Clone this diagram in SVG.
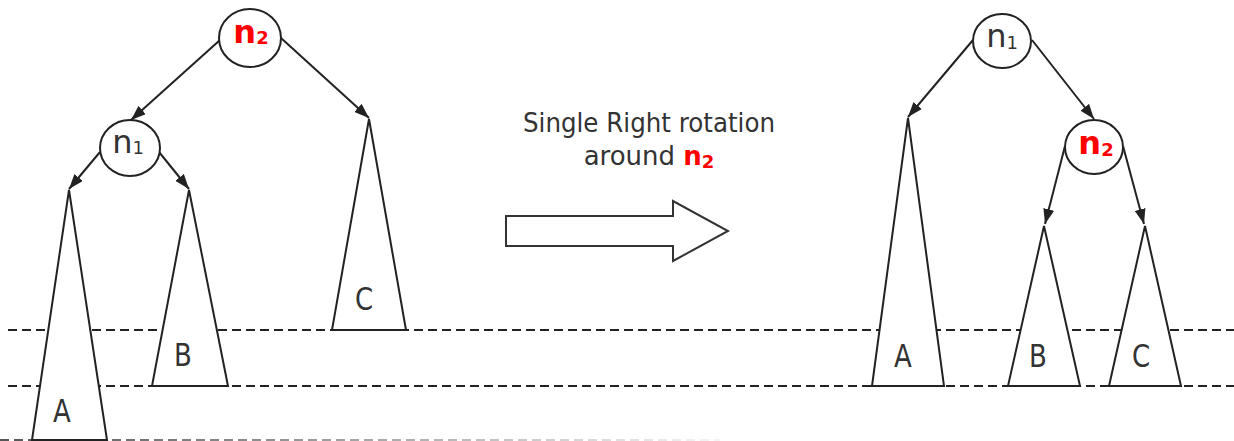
<svg xmlns="http://www.w3.org/2000/svg" width="1234" height="441" viewBox="0 0 1234 441">
<defs>
<marker id="ah" markerUnits="userSpaceOnUse" markerWidth="15" markerHeight="11" refX="15" refY="5.5" orient="auto">
<path d="M0,0 L15,5.5 L0,11 z" fill="#222"/>
</marker>
<linearGradient id="fade" gradientUnits="userSpaceOnUse" x1="0" y1="0" x2="720" y2="0">
<stop offset="0" stop-color="#555"/>
<stop offset="1" stop-color="#f5f5f5"/>
</linearGradient>
<style>
.node{fill:#fff;stroke:#222;stroke-width:2}
.tri{fill:#fff;stroke:#222;stroke-width:2;stroke-linejoin:miter}
.edge{stroke:#222;stroke-width:2;fill:none;marker-end:url(#ah)}
.dash{stroke:#222;stroke-width:1.8;stroke-dasharray:9 5;fill:none}
.lbl{font-family:"DejaVu Sans","Verdana",sans-serif;fill:#333;font-size:32px}
.red{fill:#ff0000;font-weight:bold}
.sub{font-size:18px}
.let{font-family:"DejaVu Sans","Verdana",sans-serif;fill:#333;font-size:26px;text-anchor:middle}
.cap{font-family:"DejaVu Sans","Verdana",sans-serif;fill:#333;font-size:26px;text-anchor:middle}
</style>
</defs>
<rect width="1234" height="441" fill="#fff"/>

<g id="guides">
<line class="dash" x1="8" y1="330" x2="1234" y2="330"/>
<line class="dash" x1="8" y1="386" x2="1234" y2="386"/>
<line x1="0" y1="440" x2="720" y2="440" stroke="url(#fade)" stroke-width="1.8" stroke-dasharray="9 5"/>
</g>

<g id="left-A"><polygon class="tri" points="69,190 32,440 107,440"/><text class="let" transform="translate(62,422) scale(1,1.2)">A</text></g>
<g id="left-B"><polygon class="tri" points="189,190 152,386 228,386"/><text class="let" transform="translate(183,366) scale(1,1.2)">B</text></g>
<g id="left-C"><polygon class="tri" points="369,119 332,330 406,330"/><text class="let" transform="translate(364,310) scale(1,1.2)">C</text></g>

<g id="right-A"><polygon class="tri" points="908,118 872,386 944,386"/><text class="let" transform="translate(903,367) scale(1,1.2)">A</text></g>
<g id="right-B"><polygon class="tri" points="1044,226 1008,386 1080,386"/><text class="let" transform="translate(1038,367) scale(1,1.2)">B</text></g>
<g id="right-C"><polygon class="tri" points="1145,226 1109,386 1181,386"/><text class="let" transform="translate(1141,367) scale(1,1.2)">C</text></g>

<g id="connectors">
<line class="edge" x1="220" y1="40" x2="131" y2="120"/>
<line class="edge" x1="281" y1="38" x2="369" y2="118"/>
<line class="edge" x1="100" y1="152" x2="69" y2="189"/>
<line class="edge" x1="159" y1="152" x2="189" y2="189"/>
<line class="edge" x1="973" y1="40" x2="908" y2="117"/>
<line class="edge" x1="1032" y1="40" x2="1094" y2="119"/>
<line class="edge" x1="1065" y1="146" x2="1045" y2="224"/>
<line class="edge" x1="1123" y1="146" x2="1144" y2="224"/>
</g>

<g id="left-n2"><ellipse class="node" cx="250" cy="38" rx="31" ry="29"/><text class="lbl" x="251" y="43" text-anchor="middle"><tspan class="red">n</tspan><tspan class="red sub" dy="1">2</tspan></text></g>
<g id="left-n1"><ellipse class="node" cx="130" cy="148" rx="30" ry="28"/><text class="lbl" x="128" y="153" text-anchor="middle">n<tspan class="sub" dy="1">1</tspan></text></g>
<g id="right-n1"><ellipse class="node" cx="1002" cy="41" rx="29" ry="27"/><text class="lbl" x="1002" y="47" text-anchor="middle">n<tspan class="sub" dy="2">1</tspan></text></g>
<g id="right-n2"><ellipse class="node" cx="1094" cy="147" rx="29" ry="27"/><text class="lbl" x="1096" y="154" text-anchor="middle"><tspan class="red">n</tspan><tspan class="red sub" dy="2">2</tspan></text></g>

<g id="rotation-arrow">
<polygon points="506,216 673,216 673,201 728,231 673,261 673,246 506,246" fill="#fff" stroke="#333" stroke-width="2"/>
<text class="cap" x="649" y="132" textLength="252" lengthAdjust="spacingAndGlyphs">Single Right rotation</text>
<text class="cap" x="649" y="165">around <tspan fill="#ff0000" font-weight="bold">n</tspan><tspan fill="#ff0000" font-weight="bold" font-size="18" dy="3">2</tspan></text>
</g>
</svg>
